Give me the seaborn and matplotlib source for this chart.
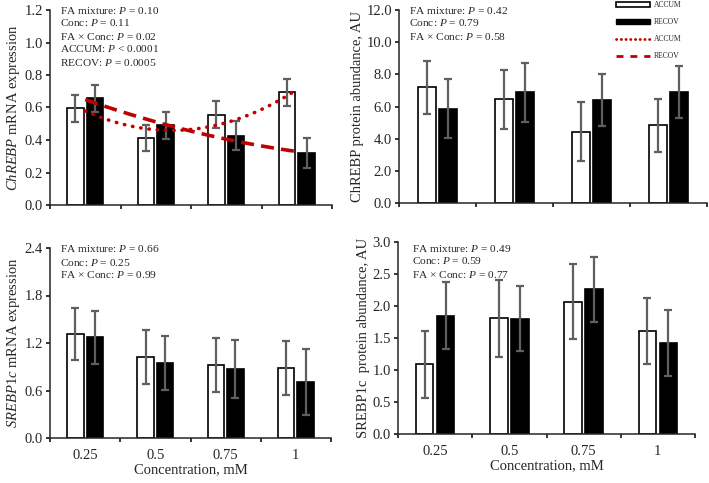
import numpy as np
import pandas as pd
import matplotlib
matplotlib.use("Agg")
import matplotlib.pyplot as plt
from matplotlib.patches import Patch
from matplotlib.lines import Line2D
import seaborn as sns

# ======================
# DATA
# ======================
conc = ["0.25", "0.5", "0.75", "1"]
groups = ["ACCUM", "RECOV"]

chrebp_mrna_accum = [0.595, 0.414, 0.556, 0.693]
chrebp_mrna_accum_se = [0.082, 0.080, 0.082, 0.081]
chrebp_mrna_recov = [0.656, 0.490, 0.427, 0.322]
chrebp_mrna_recov_se = [0.084, 0.082, 0.090, 0.092]

chrebp_prot_accum = [7.20, 6.44, 4.44, 4.82]
chrebp_prot_accum_se = [1.65, 1.83, 1.84, 1.65]
chrebp_prot_recov = [5.86, 6.88, 6.40, 6.88]
chrebp_prot_recov_se = [1.83, 1.83, 1.63, 1.62]

srebp_mrna_accum = [1.31, 1.02, 0.92, 0.88]
srebp_mrna_accum_se = [0.33, 0.34, 0.34, 0.34]
srebp_mrna_recov = [1.27, 0.95, 0.87, 0.71]
srebp_mrna_recov_se = [0.33, 0.34, 0.37, 0.42]

srebp_prot_accum = [1.09, 1.81, 2.07, 1.61]
srebp_prot_accum_se = [0.52, 0.60, 0.59, 0.51]
srebp_prot_recov = [1.85, 1.80, 2.26, 1.42]
srebp_prot_recov_se = [0.52, 0.51, 0.51, 0.51]

# ======================
# STYLE
# ======================
sns.set_style("ticks")
plt.rcParams["font.family"] = ["Liberation Serif", "DejaVu Serif"]
plt.rcParams["mathtext.fontset"] = "custom"
plt.rcParams["mathtext.rm"] = "Liberation Serif"
plt.rcParams["mathtext.it"] = "Liberation Serif:italic"
plt.rcParams["axes.linewidth"] = 1.1

RED = "#c00000"
ERR = "#5f5f5f"
W, H = 709, 483

fig = plt.figure(figsize=(W / 100, H / 100), dpi=100)


def add_ax(left, right, top, bottom):
    return fig.add_axes([left / W, 1 - bottom / H, (right - left) / W, (bottom - top) / H])


def draw_panel(ax, accum, accum_se, recov, recov_se, ymax, ystep, ylabel, bottom_row):
    df = pd.DataFrame({
        "conc": conc * 2,
        "group": ["ACCUM"] * 4 + ["RECOV"] * 4,
        "value": accum + recov,
    })
    sns.barplot(
        data=df, x="conc", y="value", hue="group",
        order=conc, hue_order=groups,
        palette={"ACCUM": "white", "RECOV": "black"},
        edgecolor="black", linewidth=1.2,
        width=0.56, gap=0.16, errorbar=None, legend=False, ax=ax
    )
    for cont, vals, errs in zip(ax.containers, [accum, recov], [accum_se, recov_se]):
        xs = [b.get_x() + b.get_width() / 2 for b in cont]
        ax.errorbar(xs, vals, yerr=errs, fmt="none", ecolor=ERR,
                    elinewidth=1.6, capsize=2.6, capthick=1.6, zorder=5)

    ax.set_xlim(-0.5, 3.5)
    ax.set_ylim(0, ymax)
    yt = np.arange(0, ymax + ystep / 2, ystep)
    ax.set_yticks(yt)
    ax.set_yticklabels([f"{v:.1f}" for v in yt])
    ax.set_xticks([-0.5, 0.5, 1.5, 2.5, 3.5])
    ax.set_xticklabels([])
    ax.set_xticks(range(4), minor=True)
    if bottom_row:
        ax.set_xticklabels(conc, minor=True)
        ax.set_xlabel("Concentration, mM", fontsize=10.5, labelpad=1)
    else:
        ax.set_xticklabels([], minor=True)
        ax.set_xlabel("")
    ax.tick_params(axis="both", which="major", length=3, width=1.1, labelsize=10.5,
                   color="black", pad=2)
    ax.tick_params(axis="x", which="minor", length=0, labelsize=10.5, pad=8)
    ax.set_ylabel(ylabel, fontsize=10.5, labelpad=2)
    sns.despine(ax=ax)


# ======================
# PANELS
# ======================
ax_a = add_ax(50, 332, 10, 205)
draw_panel(ax_a, chrebp_mrna_accum, chrebp_mrna_accum_se,
           chrebp_mrna_recov, chrebp_mrna_recov_se,
           1.2, 0.2, r"$ChREBP$ mRNA expression", False)

# quadratic trend lines (as in the original)
sns.regplot(x=np.arange(4), y=chrebp_mrna_accum, order=2, ci=None, scatter=False, ax=ax_a,
            line_kws=dict(color=RED, lw=2.6, ls=(0, (0.1, 2.2)), dash_capstyle="round", zorder=6))
sns.regplot(x=np.arange(4), y=chrebp_mrna_recov, order=2, ci=None, scatter=False, ax=ax_a,
            line_kws=dict(color=RED, lw=2.6, ls=(0, (3.6, 2.0)), zorder=6))
ax_a.set_xlim(-0.5, 3.5)
ax_a.set_ylim(0, 1.2)

ax_b = add_ax(399, 707, 10, 203)
draw_panel(ax_b, chrebp_prot_accum, chrebp_prot_accum_se,
           chrebp_prot_recov, chrebp_prot_recov_se,
           12.0, 2.0, "ChREBP protein abundance, AU", False)

ax_c = add_ax(50, 331, 248, 438)
draw_panel(ax_c, srebp_mrna_accum, srebp_mrna_accum_se,
           srebp_mrna_recov, srebp_mrna_recov_se,
           2.4, 0.6, r"$\mathit{SREBP1c}$ mRNA expression", True)

ax_d = add_ax(398, 695, 242, 434)
draw_panel(ax_d, srebp_prot_accum, srebp_prot_accum_se,
           srebp_prot_recov, srebp_prot_recov_se,
           3.0, 0.5, "SREBP1c  protein abundance, AU", True)

# ======================
# ANNOTATIONS
# ======================
def stats_text(x, y0, lines):
    for i, t in enumerate(lines):
        fig.text(x / W, 1 - (y0 + 13 * i) / H, t, fontsize=8.2, va="center", ha="left")


stats_text(60, 10, ["FA mixture: $P$ = 0.10", "Conc: $P$ = 0.11", "FA × Conc: $P$ = 0.02",
                    "ACCUM: $P$ < 0.0001", "RECOV: $P$ = 0.0005"])
stats_text(409, 10, ["FA mixture: $P$ = 0.42", "Conc: $P$ = 0.79", "FA × Conc: $P$ = 0.58"])
stats_text(60, 249, ["FA mixture: $P$ = 0.66", "Conc: $P$ = 0.25", "FA × Conc: $P$ = 0.99"])
stats_text(412, 248, ["FA mixture: $P$ = 0.49", "Conc: $P$ = 0.59", "FA × Conc: $P$ = 0.77"])

handles = [
    Patch(facecolor="white", edgecolor="black", linewidth=1.2),
    Patch(facecolor="black", edgecolor="black"),
    Line2D([], [], color=RED, lw=2, ls=(0, (0.1, 1.6)), dash_capstyle="round"),
    Line2D([], [], color=RED, lw=2, ls=(0, (2.5, 2.5))),
]
fig.legend(handles, ["ACCUM", "RECOV", "ACCUM", "RECOV"],
           loc="upper left", bbox_to_anchor=(616 / W, 1 - 1 / H),
           frameon=False, fontsize=5.5, handlelength=4.5, handleheight=0.6,
           handletextpad=0.4, labelspacing=1.2, borderpad=0, borderaxespad=0)

fig.savefig("out.png", dpi=100)
